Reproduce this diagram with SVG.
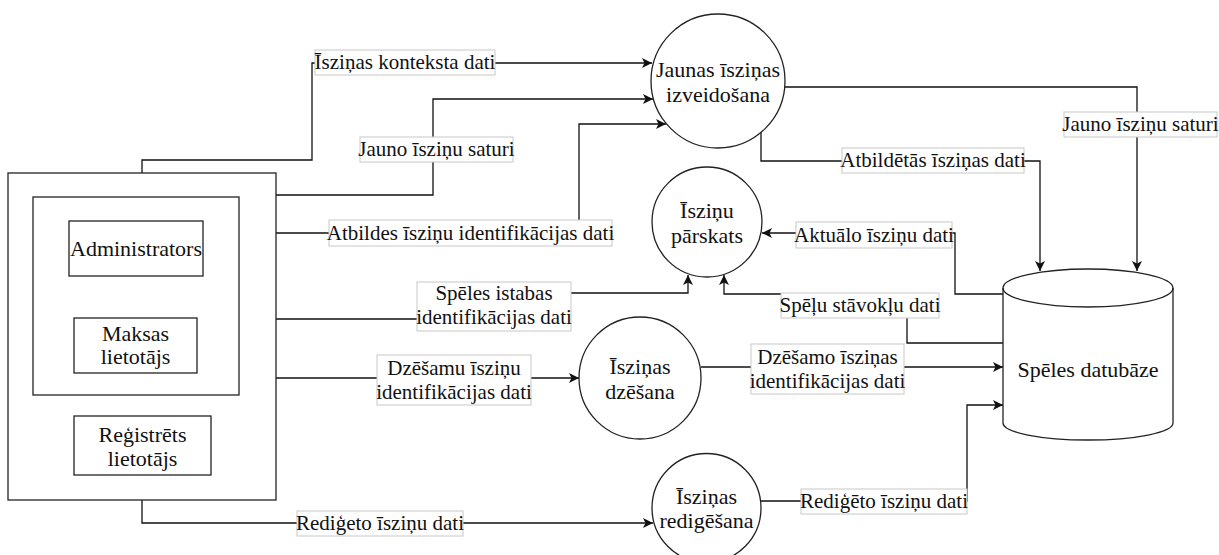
<svg xmlns="http://www.w3.org/2000/svg" width="1219" height="555" viewBox="0 0 1219 555" font-family="'Liberation Serif', 'DejaVu Serif', serif">
<style>
text{font-family:'Liberation Serif','DejaVu Serif',serif;fill:#111;text-anchor:middle}
.n{font-size:22px}
.l{font-size:21px}
.shape{fill:#fff;stroke:#222;stroke-width:1.3}
.c{fill:none;stroke:#111;stroke-width:1.3}
.lb{fill:#fff;stroke:#c8c8c8;stroke-width:1}
</style>
<defs>
<marker id="ar" viewBox="0 0 10 10" refX="10" refY="5" markerWidth="10" markerHeight="10" markerUnits="userSpaceOnUse" orient="auto">
<path d="M0,0 L10,5 L0,10 L2.5,5 z" fill="#111"/>
</marker>
</defs>
<rect width="1219" height="555" fill="#fff"/>
<g id="connectors">
<path class="c" d="M142,173 V160 H312 V63 H652" marker-end="url(#ar)"/>
<path class="c" d="M276,195 H433 V99 H653" marker-end="url(#ar)"/>
<path class="c" d="M276,233 H579 V124 H666" marker-end="url(#ar)"/>
<path class="c" d="M761,132 V161 H1040 V271" marker-end="url(#ar)"/>
<path class="c" d="M785,87 H1137 V271" marker-end="url(#ar)"/>
<path class="c" d="M1003,294 H955 V233 H762" marker-end="url(#ar)"/>
<path class="c" d="M1003,343 H907 V294 H724 V275" marker-end="url(#ar)"/>
<path class="c" d="M276,319 H494 V293 H688 V275" marker-end="url(#ar)"/>
<path class="c" d="M276,378 H579" marker-end="url(#ar)"/>
<path class="c" d="M701,367 H1003" marker-end="url(#ar)"/>
<path class="c" d="M760,501 H967 V405 H1003" marker-end="url(#ar)"/>
<path class="c" d="M142,500 V523 H653" marker-end="url(#ar)"/>
<g id="lbl1"><rect class="lb" x="315" y="50" width="180" height="25"/><text class="l" x="405" y="69">Īsziņas konteksta dati</text></g>
<g id="lbl2"><rect class="lb" x="360" y="137" width="153" height="25"/><text class="l" x="436.5" y="156">Jauno īsziņu saturi</text></g>
<g id="lbl3"><rect class="lb" x="329" y="220" width="283" height="26"/><text class="l" x="470.5" y="240">Atbildes īsziņu identifikācijas dati</text></g>
<g id="lbl4"><rect class="lb" x="842" y="148" width="182" height="25"/><text class="l" x="933" y="167">Atbildētās īsziņas dati</text></g>
<g id="lbl5"><rect class="lb" x="1064" y="112" width="153" height="25"/><text class="l" x="1140.5" y="131">Jauno īsziņu saturi</text></g>
<g id="lbl6"><rect class="lb" x="796" y="222" width="156" height="26"/><text class="l" x="874" y="242">Aktuālo īsziņu dati</text></g>
<g id="lbl7"><rect class="lb" x="781" y="293" width="158" height="25"/><text class="l" x="860" y="312">Spēļu stāvokļu dati</text></g>
<g id="lbl8"><rect class="lb" x="417" y="282" width="154" height="49"/><text class="l" x="494" y="300">Spēles istabas</text><text class="l" x="494" y="324">identifikācijas dati</text></g>
<g id="lbl9"><rect class="lb" x="377" y="355" width="154" height="50"/><text class="l" x="454" y="375">Dzēšamu īsziņu</text><text class="l" x="454" y="399">identifikācijas dati</text></g>
<g id="lbl10"><rect class="lb" x="751" y="344" width="153" height="50"/><text class="l" x="827.5" y="364">Dzēšamo īsziņas</text><text class="l" x="827.5" y="388">identifikācijas dati</text></g>
<g id="lbl11"><rect class="lb" x="801" y="489" width="166" height="25"/><text class="l" x="884" y="508">Rediģēto īsziņu dati</text></g>
<g id="lbl12"><rect class="lb" x="297" y="511" width="166" height="25"/><text class="l" x="380" y="530">Rediģeto īsziņu dati</text></g>
</g>
<g id="users">
<rect class="shape" x="8" y="173" width="268" height="327"/>
<rect class="shape" x="33" y="197" width="206" height="198"/>
</g>
<g id="administrators"><rect class="shape" x="69" y="221" width="134" height="55"/><text class="n" x="136" y="256">Administrators</text></g>
<g id="maksas"><rect class="shape" x="74" y="318" width="123" height="55"/><text class="n" x="135.5" y="341">Maksas</text><text class="n" x="135.5" y="364">lietotājs</text></g>
<g id="registrets"><rect class="shape" x="74" y="416" width="137" height="59"/><text class="n" x="142.5" y="442">Reģistrēts</text><text class="n" x="142.5" y="466">lietotājs</text></g>
<g id="jaunas"><circle class="shape" cx="718" cy="81" r="67"/><text class="n" x="718" y="77">Jaunas īsziņas</text><text class="n" x="718" y="102">izveidošana</text></g>
<g id="parskats"><circle class="shape" cx="707" cy="222" r="55"/><text class="n" x="707" y="218">Īsziņu</text><text class="n" x="707" y="243">pārskats</text></g>
<g id="dzesana"><circle class="shape" cx="640" cy="378" r="61"/><text class="n" x="640" y="374">Īsziņas</text><text class="n" x="640" y="399">dzēšana</text></g>
<g id="redigesana"><circle class="shape" cx="706.5" cy="508" r="54.5"/><text class="n" x="706.5" y="504">Īsziņas</text><text class="n" x="706.5" y="528">redigēšana</text></g>
<g id="datubaze">
<path class="shape" d="M1003,288 A85,19 0 0 1 1173,288 V423 A85,17 0 0 1 1003,423 Z"/>
<path class="c" style="stroke:#222" d="M1003,288 A85,19 0 0 0 1173,288"/>
<text class="n" x="1088" y="377">Spēles datubāze</text>
</g>
</svg>
